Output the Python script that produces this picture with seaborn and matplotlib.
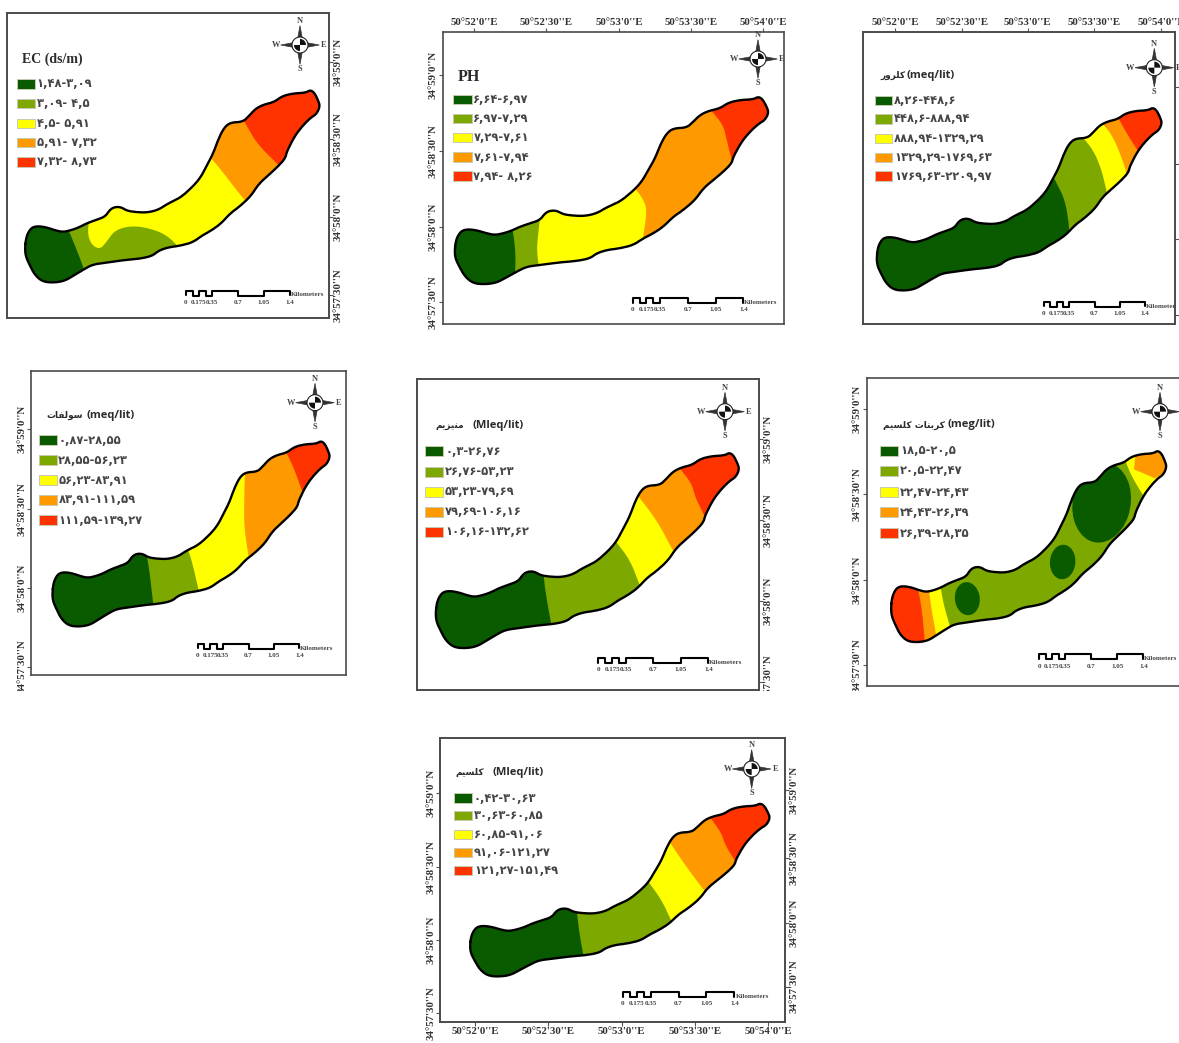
import matplotlib
matplotlib.use("Agg")
import matplotlib.pyplot as plt
import numpy as np
import seaborn as sns
from matplotlib.patches import Ellipse, Rectangle, Polygon
from matplotlib.transforms import Bbox

# ---------- data ----------
LAKE_NORTH_X = [104,108,118,130,150,175,200,225,250,275,300,330,360,375,390,410,430,460,495,530,560,600,640,665,685,705,722,740,760,800,820,840,865,900,925,960,1000,1015,1028,1040,1046]
LAKE_NORTH_Y = [750,720,700,690,688,692,700,705,700,692,680,670,660,640,632,632,643,647,648,640,622,605,572,545,510,475,432,400,385,383,365,345,333,325,308,300,298,290,298,320,338]
LAKE_SOUTH_X = [1035,1015,990,965,940,935,910,880,850,825,790,760,730,700,670,640,600,560,530,510,470,420,360,320,290,260,230,195,160,135,118,106,104]
LAKE_SOUTH_Y = [360,372,395,425,470,490,515,540,565,600,630,650,680,700,715,735,745,750,760,775,783,787,795,800,815,832,848,853,850,830,800,775,750]

DARK, OLIVE, YELLOW, ORANGE, RED = sns.color_palette(["#0A5A00", "#7CA800", "#FFFF00", "#FF9900", "#FF3300"])
CLASS_COLORS = [DARK, OLIVE, YELLOW, ORANGE, RED]

LON_LABELS = ["50°52'0''E", "50°52'30''E", "50°53'0''E", "50°53'30''E", "50°54'0''E"]
LAT_LABELS = ["34°59'0''N", "34°58'30''N", "34°58'0''N", "34°57'30''N"]
SCALE_LABELS = ["0", "0.175", "0.35", "0.7", "1.05", "1.4"]
SCALE_KM = [0, 0.0875, 0.175, 0.2625, 0.35, 0.7, 1.05, 1.4]

KOLRUR = "\uFEAD\uFEED\uFEAE\uFEE0\uFB90"
SOLFAT = "\uFE95\uFE8E\uFED4\uFEDF\uFEEE\uFEB3"
MENIZIM = "\uFEE2\uFBFE\uFEB0\uFBFF\uFEE8\uFEE3"
KARBONAT = "\uFE95\uFE8E\uFEE8\uFE91\uFEAE\uFB90"
KALSIM = "\uFEE2\uFBFF\uFEB4\uFEE0\uFB90"

EC_CLASSES = ["۱,۴۸-۳,۰۹", "۳,۰۹- ۴,۵", "۴,۵- ۵,۹۱", "۵,۹۱- ۷,۳۲", "۷,۳۲- ۸,۷۳"]
PH_CLASSES = ["۶,۶۴-۶,۹۷", "۶,۹۷-۷,۲۹", "۷,۲۹-۷,۶۱", "۷,۶۱-۷,۹۴", "۷,۹۴- ۸,۲۶"]
CL_CLASSES = ["۸,۲۶-۴۴۸,۶", "۴۴۸,۶-۸۸۸,۹۴", "۸۸۸,۹۴-۱۳۲۹,۲۹", "۱۳۲۹,۲۹-۱۷۶۹,۶۳", "۱۷۶۹,۶۳-۲۲۰۹,۹۷"]
SO_CLASSES = ["۰,۸۷-۲۸,۵۵", "۲۸,۵۵-۵۶,۲۳", "۵۶,۲۳-۸۳,۹۱", "۸۳,۹۱-۱۱۱,۵۹", "۱۱۱,۵۹-۱۳۹,۲۷"]
MG_CLASSES = ["۰,۳-۲۶,۷۶", "۲۶,۷۶-۵۳,۲۳", "۵۳,۲۳-۷۹,۶۹", "۷۹,۶۹-۱۰۶,۱۶", "۱۰۶,۱۶-۱۳۲,۶۲"]
CC_CLASSES = ["۱۸,۵-۲۰,۵", "۲۰,۵-۲۲,۴۷", "۲۲,۴۷-۲۴,۴۳", "۲۴,۴۳-۲۶,۳۹", "۲۶,۳۹-۲۸,۳۵"]
CA_CLASSES = ["۰,۴۲-۳۰,۶۳", "۳۰,۶۳-۶۰,۸۵", "۶۰,۸۵-۹۱,۰۶", "۹۱,۰۶-۱۲۱,۲۷", "۱۲۱,۲۷-۱۵۱,۴۹"]

EC_CUTS = [[(200,680),(210,700),(250,800),(255,825)],
           [(270,645),(262,700),(275,735),(300,748),(320,725),(345,690),(395,677),(450,685),(500,705),(540,745),(548,755)],
           [(625,470),(640,480),(725,590),(735,600)],
           [(725,355),(735,368),(770,430),(830,490),(840,500)]]
PH_CUTS = [[(275,680),(280,700),(287,760),(285,830)],
           [(360,650),(355,700),(350,750),(358,810)],
           [(640,560),(665,590),(682,628),(668,720),(665,735)],
           [(868,325),(910,375),(920,420),(935,480),(940,495)]]
CL_CUTS = [[(635,520),(650,550),(675,600),(688,680),(685,700)],
           [(722,405),(760,450),(785,510),(800,575)],
           [(783,365),(820,410),(855,500),(860,525)],
           [(830,345),(860,400),(890,447),(897,460)]]
SO_CUTS = [[(440,585),(448,630),(460,735),(462,750)],
           [(562,565),(575,600),(597,695),(600,705)],
           [(735,330),(733,400),(732,500),(745,585)],
           [(855,270),(880,320),(905,390),(910,400)]]
MG_CUTS = [[(430,640),(437,700),(455,800)],
           [(648,545),(690,600),(718,672)],
           [(712,405),(770,480),(818,570)],
           [(835,320),(875,370),(885,410),(912,465)]]
CC_CUTS = [[(290,670),(305,740),(315,850)],
           [(325,680),(335,750),(350,835)],
           [(360,670),(370,730),(390,800)],
           [(915,300),(935,350),(975,415)]]
CA_CUTS = [[(500,570),(508,640),(522,715)],
           [(715,485),(755,540),(785,605)],
           [(775,360),(825,435),(885,515)],
           [(895,285),(935,340),(945,375),(975,422)]]

CC_EAST_PATCH_X = [948,942,1005,1060,1060]
CC_EAST_PATCH_Y = [270,328,355,320,250]
CC_BLOB_X = [845,728,442]
CC_BLOB_Y = [428,606,716]
CC_BLOB_W = [172,76,74]
CC_BLOB_H = [244,104,100]
CC_BLOB_ANGLE = [-22,-12,18]

PANELS = [
 dict(off=(0,0), frame=(22,987,38,955), lake=(75,960,270,848), title_en="EC (ds/m)", tfont="serif", tsize=10, title_xy=(65,178),
      classes=EC_CLASSES, cuts=EC_CUTS, colors=[0,1,2,3,4], sw=(52,104,28), swy=[252,311,370,428,486], tx=110,
      rose=(900,135), scale=(558,872,312,908,873,883), right=[185,418,652,885], rlab=True),
 dict(off=(420,0), frame=(68,1092,97,973), lake=(104,1046,290,853), title_en="PH", tfont="serif", tsize=11.5, title_xy=(113,232),
      classes=PH_CLASSES, cuts=PH_CUTS, colors=[0,1,2,3,4], sw=(100,155,28), swy=[298,355,413,471,528], tx=160,
      rose=(1014,177), scale=(638,895,332,928,973,906), left=[226,453,680,907], top=[162,378,597,813,1030]),
 dict(off=(840,0), frame=(70,1005,95,972), lake=(110,966,323,872), title_fa=KOLRUR, title_en="(meq/lit)", tfont="sans", title_xy=(120,226), title_end=345,
      classes=CL_CLASSES, cuts=CL_CUTS, colors=[0,1,2,3,4], sw=(105,155,28), swy=[302,357,415,472,528], tx=162,
      rose=(943,203), scale=(612,905,303,940,918,918), top=[165,365,563,763,963], right=[262,492,718,945], rlab=False),
 dict(off=(0,360), frame=(93,1038,32,945), lake=(157,990,243,800), title_fa=SOLFAT, title_en="(meq/lit)", tfont="sans", title_xy=(140,167), title_end=405,
      classes=SO_CLASSES, cuts=SO_CUTS, colors=[0,1,2,3,4], sw=(118,170,30), swy=[241,300,360,419,480], tx=175,
      rose=(945,128), scale=(593,852,305,887,900,865), left=[208,447,684,920], cliplab=691),
 dict(off=(400,360), frame=(52,1076,58,990), lake=(107,1018,278,865), title_fa=MENIZIM, title_en="(Mleq/lit)", tfont="sans", title_xy=(105,198), title_end=370,
      classes=MG_CLASSES, cuts=MG_CUTS, colors=[0,1,2,3,4], sw=(76,130,30), swy=[274,335,396,456,516], tx=135,
      rose=(975,155), scale=(595,895,330,928,927,906), right=[237,480,722,965], rlab=True, cliplab=691),
 dict(off=(820,360), frame=(140,1120,55,978), lake=(213,1040,272,847), title_fa=KALSIM+" "+KARBONAT, title_en="(meg/lit)", tfont="sans", title_xy=(188,195), title_end=525,
      classes=CC_CLASSES, cuts=CC_CUTS, colors=[4,3,2,1,2], sw=(180,235,30), swy=[272,333,396,457,520], tx=240,
      rose=(1020,155), scale=(657,883,313,920,972,895), left=[147,403,659,916], cliplab=691, legend_colors=[0,1,2,3,4]),
 dict(off=(410,720), frame=(90,1125,55,905), lake=(180,1080,250,770), title_fa=KALSIM, title_en="(Mleq/lit)", tfont="sans", title_xy=(135,157), title_end=400,
      classes=CA_CLASSES, cuts=CA_CUTS, colors=[0,1,2,3,4], sw=(132,187,28), swy=[234,287,343,397,452], tx=192,
      rose=(1025,147), scale=(638,817,335,850,978,828), left=[218,441,660,880], bottom=[195,415,635,855,1075], right=[210,415,610,800], rlab=True),
]

# ---------- theme ----------
sns.set_theme(style="white")
plt.rcParams["font.family"] = ["DejaVu Sans"]
W_PX, H_PX = 1179, 1043
fig = plt.figure(figsize=(W_PX/100, H_PX/100), dpi=100, facecolor="white")
SERIF = ["Liberation Serif", "DejaVu Serif"]
SANS = ["Open Sans", "DejaVu Sans"]
INK = "#333333"


def rounded(xs, ys, closed=False, passes=2):
    pts = np.column_stack([xs, ys]).astype(float)
    for _ in range(passes):
        if closed:
            nxt = np.roll(pts, -1, axis=0)
            pts = np.column_stack([0.75*pts + 0.25*nxt, 0.25*pts + 0.75*nxt]).reshape(-1, 2)
        else:
            q = 0.75*pts[:-1] + 0.25*pts[1:]
            r = 0.25*pts[:-1] + 0.75*pts[1:]
            pts = np.vstack([pts[:1], np.column_stack([q, r]).reshape(-1, 2), pts[-1:]])
    return pts


lake_z = rounded(LAKE_NORTH_X + LAKE_SOUTH_X[:-1], LAKE_NORTH_Y + LAKE_SOUTH_Y[:-1], closed=True)
LON_SEC = (lake_z[:, 0] - 162) / 7.233      # arc-seconds east of 50°52'0"
LAT_SEC = (680 - lake_z[:, 1]) / 7.567      # arc-seconds north of 34°58'0"


def draw_panel(p):
    ox, oy = p["off"]
    fl, fr, ft, fb = p["frame"]
    lw_, le, lt, lb = p["lake"]
    to_x = lambda z: (104 + (np.asarray(z, float) - lw_) / (le - lw_) * 942 - 162) / 7.233
    to_y = lambda z: (680 - (290 + (np.asarray(z, float) - lt) / (lb - lt) * 563)) / 7.567
    L, R = ox + fl/3, ox + fr/3
    T, B = oy + ft/3, oy + fb/3
    ax = fig.add_axes([L/W_PX, 1 - B/H_PX, (R-L)/W_PX, (B-T)/H_PX])
    xlim, ylim = (float(to_x(fl)), float(to_x(fr))), (float(to_y(fb)), float(to_y(ft)))

    # lake base and clipped class zones
    lake = Polygon(np.column_stack([LON_SEC, LAT_SEC]), closed=True, fc=CLASS_COLORS[p["colors"][0]], ec="none", zorder=2)
    ax.add_patch(lake)
    for cut, ci in zip(p["cuts"], p["colors"][1:]):
        zx, zy = zip(*cut)
        line = rounded(zx, zy, passes=2)
        pts = np.vstack([line, [(3000, 3000), (3000, -2000), (line[0, 0], -2000)]])
        poly = Polygon(np.column_stack([to_x(pts[:, 0]), to_y(pts[:, 1])]), closed=True, fc=CLASS_COLORS[ci], ec="none", zorder=3)
        ax.add_patch(poly)
        poly.set_clip_path(lake)
    if p["classes"] is CC_CLASSES:
        poly = Polygon(np.column_stack([to_x(CC_EAST_PATCH_X), to_y(CC_EAST_PATCH_Y)]), closed=True, fc=ORANGE, ec="none", zorder=4)
        ax.add_patch(poly)
        poly.set_clip_path(lake)
        for cx, cy, w, h, a in zip(CC_BLOB_X, CC_BLOB_Y, CC_BLOB_W, CC_BLOB_H, CC_BLOB_ANGLE):
            sx = float(to_x(1) - to_x(0))
            sy = float(to_y(0) - to_y(1))
            e = Ellipse((float(to_x(cx)), float(to_y(cy))), w*sx, h*sy, angle=a, fc=DARK, ec="none", zorder=4)
            ax.add_patch(e)
            e.set_clip_path(lake)
    sns.lineplot(x=np.r_[LON_SEC, LON_SEC[0]], y=np.r_[LAT_SEC, LAT_SEC[0]], sort=False, estimator=None,
                 color="black", linewidth=1.7, ax=ax, zorder=5, solid_joinstyle="round")

    # legend
    sx0, sx1, sh = p["sw"]
    lc = p.get("legend_colors", p["colors"])
    for y, lab, ci in zip(p["swy"], p["classes"], lc):
        ax.add_patch(Rectangle((float(to_x(sx0)), float(to_y(y + sh/2))), float(to_x(sx1) - to_x(sx0)),
                               float(to_y(y - sh/2) - to_y(y + sh/2)), fc=CLASS_COLORS[ci], ec="#c8c8b0", lw=0.7, zorder=6))
        ax.text(float(to_x(p["tx"])), float(to_y(y)), lab, family="DejaVu Sans", fontweight="bold", fontsize=8.3,
                color="#454545", va="center", ha="left", zorder=6)
    tx, ty = p["title_xy"]
    if p["tfont"] == "serif":
        ax.text(float(to_x(tx)), float(to_y(ty)), p["title_en"], family=SERIF, fontweight="bold", fontsize=p["tsize"],
                color="#2b2b2b", va="center", ha="left", zorder=6)
    else:
        ax.text(float(to_x(tx)), float(to_y(ty)), p["title_fa"], family="DejaVu Sans", fontweight="bold", fontsize=6.5,
                color="#2b2b2b", va="center", ha="left", zorder=6)
        ax.text(float(to_x(p["title_end"])), float(to_y(ty)), p["title_en"], family=SANS, fontweight="bold", fontsize=8,
                color="#2b2b2b", va="center", ha="right", zorder=6)

    # north arrow
    rx, ry = p["rose"]
    arm, waist = 58, 9
    star_x = [rx, rx+waist, rx+arm, rx+waist, rx, rx-waist, rx-arm, rx-waist]
    star_y = [ry-arm, ry-waist, ry, ry+waist, ry+arm, ry+waist, ry, ry-waist]
    ax.fill(to_x(star_x), to_y(star_y), fc="#333333", ec="#333333", lw=0.5, zorder=6)
    theta = np.linspace(0, 2*np.pi, 40)
    ax.fill(to_x(rx + 24*np.cos(theta)), to_y(ry + 24*np.sin(theta)), fc="white", ec="#222222", lw=0.8, zorder=7)
    for q in (0, 1):
        a = np.linspace(-np.pi/2, 0, 12) + q*np.pi
        ax.fill(to_x(np.r_[rx, rx + 18*np.cos(a)]), to_y(np.r_[ry, ry + 18*np.sin(a)]), fc="#111111", ec="none", zorder=8)
    for s, dx, dy in (("N", 0, -72), ("S", 0, 72), ("E", 72, 0), ("W", -72, 0)):
        ax.text(float(to_x(rx+dx)), float(to_y(ry+dy)), s, family=SERIF, fontweight="bold", fontsize=6,
                color="#444444", ha="center", va="center", zorder=8)

    # scale bar
    bx, by, bw, ly, kx, ky = p["scale"]
    km = np.array(SCALE_KM)
    step_x, step_y = [bx], [by + 13]
    for i in range(len(km) - 1):
        x0, x1 = bx + km[i]/1.4*bw, bx + km[i+1]/1.4*bw
        level = by if i % 2 == 0 else by + 15
        step_x += [x0, x1]
        step_y += [level, level]
    step_x.append(bx + bw)
    step_y.append(by + 13)
    sns.lineplot(x=to_x(step_x), y=to_y(step_y), sort=False, estimator=None, color="black", linewidth=1.5, ax=ax, zorder=6)
    for lab, v in zip(SCALE_LABELS, [0, .175, .35, .7, 1.05, 1.4]):
        ax.text(float(to_x(bx + v/1.4*bw)), float(to_y(ly)), lab, family=SERIF, fontweight="bold", fontsize=5,
                color="#444444", ha="center", va="center", zorder=6)
    ax.text(float(to_x(kx)), float(to_y(ky)), "Kilometers", family=SERIF, fontweight="bold", fontsize=5,
            color="#444444", ha="left", va="center", zorder=6, clip_on=True)

    # axes, ticks and coordinates
    ax.set_xlim(xlim)
    ax.set_ylim(ylim)
    ax.grid(False)
    ax.set_xlabel("")
    ax.set_ylabel("")
    for s in ax.spines.values():
        s.set_color("#4a4a4a")
        s.set_linewidth(1.2)
    ax.set_xticks([])
    ax.set_yticks([])
    tick_kw = dict(length=3, width=0.8, color="#555555", pad=0.5)
    labels = []
    if "top" in p or "bottom" in p:
        side = "top" if "top" in p else "bottom"
        ax.set_xticks(to_x(p[side]))
        ax.set_xticklabels(LON_LABELS)
        ax.tick_params(axis="x", top=side == "top", bottom=side == "bottom", labeltop=side == "top",
                       labelbottom=side == "bottom", **tick_kw)
        labels += ax.get_xticklabels()
    if "left" in p:
        ax.set_yticks(to_y(p["left"]))
        ax.set_yticklabels(LAT_LABELS, rotation=90, va="center")
        ax.tick_params(axis="y", left=True, labelleft=True, **tick_kw)
        labels += ax.get_yticklabels()
    if "right" in p:
        axr = ax.twinx()
        axr.set_ylim(ylim)
        axr.grid(False)
        axr.set_yticks(to_y(p["right"]))
        if p.get("rlab"):
            axr.set_yticklabels(LAT_LABELS, rotation=90, va="center")
        else:
            axr.set_yticklabels([])
        axr.tick_params(axis="y", right=True, labelright=bool(p.get("rlab")), **tick_kw)
        for s in axr.spines.values():
            s.set_color("#4a4a4a")
            s.set_linewidth(1.2)
        labels += axr.get_yticklabels()
    for t in labels:
        t.set_family(SERIF)
        t.set_fontweight("bold")
        t.set_fontsize(7.8)
        t.set_color(INK)
        if "cliplab" in p:
            t.set_clip_on(True)
            t.set_clip_box(Bbox([[0, H_PX - p["cliplab"]], [W_PX, H_PX]]))


for panel in PANELS:
    draw_panel(panel)

fig.savefig("out.png", dpi=100, facecolor="white")
